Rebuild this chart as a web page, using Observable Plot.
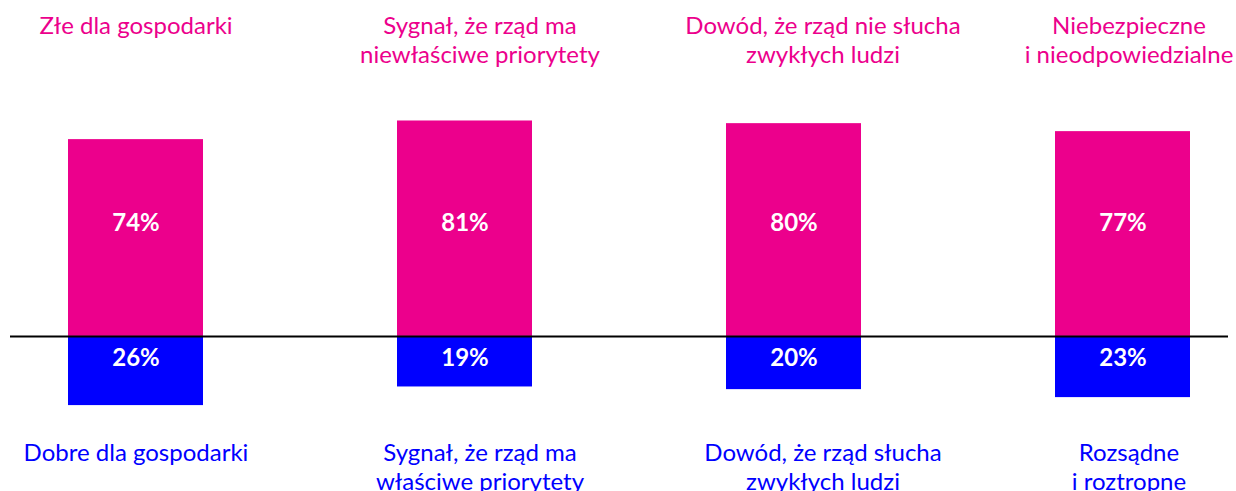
<!DOCTYPE html>
<html>
<head>
<meta charset="utf-8">
<script src="https://cdn.jsdelivr.net/npm/d3@7"></script>
<script src="https://cdn.jsdelivr.net/npm/@observablehq/plot@0.6"></script>
<style>
  html, body { margin: 0; padding: 0; background: #fff; }
  #chart svg { display: block; }
</style>
</head>
<body>
<div id="chart"></div>
<script>
const categories = ["c1", "c2", "c3", "c4"];
const topLabels = [
  "Złe dla gospodarki",
  "Sygnał, że rząd ma\nniewłaściwe priorytety",
  "Dowód, że rząd nie słucha\nzwykłych ludzi",
  "Niebezpieczne\ni nieodpowiedzialne"
];
const bottomLabels = [
  "Dobre dla gospodarki",
  "Sygnał, że rząd ma\nwłaściwe priorytety",
  "Dowód, że rząd słucha\nzwykłych ludzi",
  "Rozsądne\ni roztropne"
];
const negativeValues = [74, 81, 80, 77];
const positiveValues = [26, 19, 20, 23];

const PINK = "#EC008C";
const BLUE = "#0000FF";

const rows = categories.map((c, i) => ({
  cat: c,
  top: topLabels[i],
  bottom: bottomLabels[i],
  neg: negativeValues[i],
  pos: positiveValues[i]
}));

// horizontal nudges of the category captions relative to their bars (style only)
const captionShift = [0, 15, 29, 6];

const captionMarks = rows.flatMap((r, i) => [
  Plot.text([r], { x: "cat", text: "top", frameAnchor: "top", lineAnchor: "top", dy: 13, dx: captionShift[i], fontSize: 24, lineHeight: 1.2, fill: PINK }),
  Plot.text([r], { x: "cat", text: "bottom", frameAnchor: "top", lineAnchor: "top", dy: 440, dx: captionShift[i], fontSize: 24, lineHeight: 1.2, fill: BLUE })
]);

const chart = Plot.plot({
  width: 1236,
  height: 491,
  marginTop: 0,
  marginBottom: 0,
  marginLeft: 0,
  marginRight: 0,
  style: { fontFamily: "Lato, sans-serif", background: "#fff" },
  x: { domain: categories, range: [-30.2, 1287.2], paddingInner: 0.59, paddingOuter: 0.295, axis: null },
  y: { domain: [-58.3, 126.3], axis: null },
  marks: [
    Plot.barY(rows, { x: "cat", y1: 0, y2: "neg", fill: PINK }),
    Plot.barY(rows, { x: "cat", y1: 0, y2: d => -d.pos, fill: BLUE }),
    Plot.ruleY([0], { stroke: "#000", strokeWidth: 2, insetLeft: 10, insetRight: 8 }),
    Plot.text(rows, { x: "cat", y: () => 42.5, text: d => d.neg + "%", fill: "#fff", fontSize: 24, fontWeight: "bold" }),
    Plot.text(rows, { x: "cat", y: () => -8.3, text: d => d.pos + "%", fill: "#fff", fontSize: 24, fontWeight: "bold" }),
    ...captionMarks
  ]
});
document.getElementById("chart").appendChild(chart);
</script>
</body>
</html>
